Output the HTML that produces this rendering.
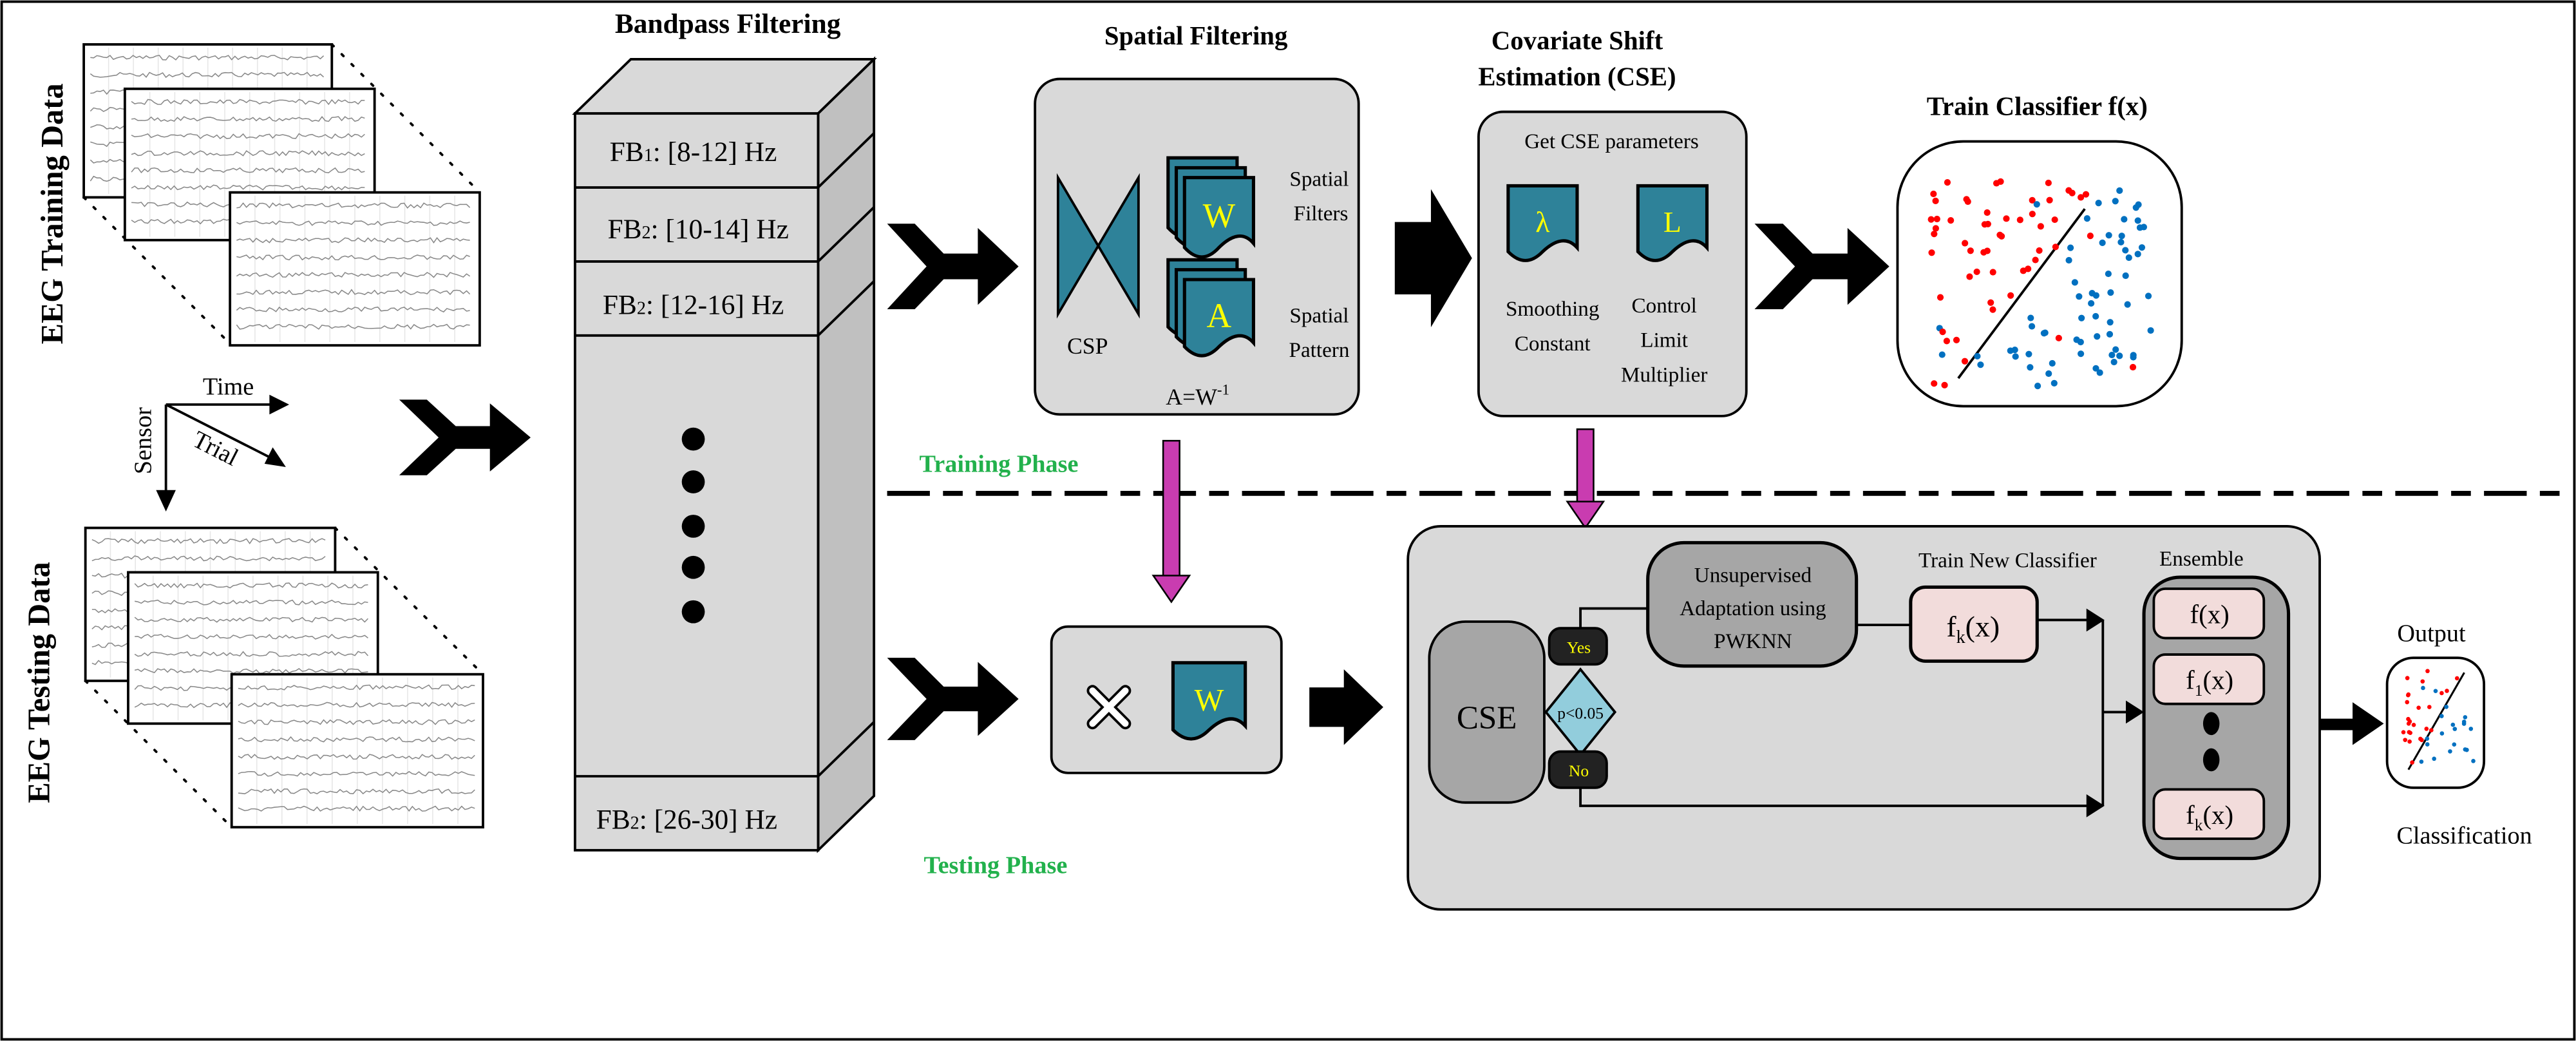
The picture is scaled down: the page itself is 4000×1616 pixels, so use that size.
<!DOCTYPE html>
<html><head><meta charset="utf-8"><style>
html,body{margin:0;padding:0;background:#fff;}
svg{display:block;}
text{font-family:"Liberation Serif",serif;}
</style></head><body>
<svg id="s" xmlns="http://www.w3.org/2000/svg" width="4000" height="1616" viewBox="0 0 1568 633" preserveAspectRatio="none">
<rect x="1" y="1" width="1566" height="631" fill="#fff" stroke="#000" stroke-width="1.5"/>
<g id="eeg"></g>
<text transform="translate(38,130) rotate(-90)" text-anchor="middle" font-size="19" font-weight="bold">EEG Training Data</text>
<text transform="translate(30,415) rotate(-90)" text-anchor="middle" font-size="19" font-weight="bold">EEG Testing Data</text>
<g stroke="#000" stroke-width="1.5" fill="none">
<line x1="101" y1="246" x2="170" y2="246"/><line x1="101" y1="246" x2="168" y2="280"/><line x1="101" y1="246" x2="101" y2="305"/>
</g>
<polygon points="176,246 164,240 164,252" fill="#000"/>
<polygon points="174,284 161,282 166,272" fill="#000"/>
<polygon points="101,311 95,298 107,298" fill="#000"/>
<text x="139" y="240" text-anchor="middle" font-size="15">Time</text>
<text transform="translate(92,268) rotate(-90)" text-anchor="middle" font-size="15">Sensor</text>
<text transform="translate(129,277) rotate(27)" text-anchor="middle" font-size="15">Trial</text>
<g id="chev"></g>
<!-- bandpass -->
<polygon points="350,69 384,36 532,36 498,69" fill="#d9d9d9" stroke="#000" stroke-width="1.5"/>
<polygon points="498,69 532,36 532,484 498,517" fill="#c0c0c0" stroke="#000" stroke-width="1.5"/>
<rect x="350" y="69" width="148" height="448" fill="#d9d9d9" stroke="#000" stroke-width="1.5"/>
<g stroke="#000" stroke-width="1.5">
<line x1="350" y1="114" x2="498" y2="114"/><line x1="498" y1="114" x2="532" y2="81"/>
<line x1="350" y1="159" x2="498" y2="159"/><line x1="498" y1="159" x2="532" y2="126"/>
<line x1="350" y1="204" x2="498" y2="204"/><line x1="498" y1="204" x2="532" y2="171"/>
<line x1="350" y1="472" x2="498" y2="472"/><line x1="498" y1="472" x2="532" y2="439"/>
</g>
<text x="443" y="20" text-anchor="middle" font-size="17" font-weight="bold">Bandpass Filtering</text>
<g font-size="17" text-anchor="middle">
<text x="422" y="98">FB<tspan font-size="11">1</tspan>: [8-12] Hz</text>
<text x="425" y="145">FB<tspan font-size="11">2</tspan>: [10-14] Hz</text>
<text x="422" y="191">FB<tspan font-size="11">2</tspan>: [12-16] Hz</text>
<text x="418" y="504">FB<tspan font-size="11">2</tspan>: [26-30] Hz</text>
</g>
<g fill="#000"><circle cx="422" cy="267" r="7"/><circle cx="422" cy="293" r="7"/><circle cx="422" cy="320" r="7"/><circle cx="422" cy="345" r="7"/><circle cx="422" cy="372" r="7"/></g>
<!-- Spatial filtering -->
<text x="728" y="27" text-anchor="middle" font-size="16" font-weight="bold">Spatial Filtering</text>
<rect x="630" y="48" width="197" height="204" rx="15" fill="#d9d9d9" stroke="#000" stroke-width="1.5"/>
<polygon points="644,108 693,191 693,108 644,191" fill="#2e8299" stroke="#000" stroke-width="1.5"/>
<text x="662" y="215" text-anchor="middle" font-size="14">CSP</text>
<!-- CSE box -->
<rect x="900" y="68" width="163" height="185" rx="15" fill="#d9d9d9" stroke="#000" stroke-width="1.5"/>
<!-- multiply box -->
<rect x="640" y="381" width="140" height="89" rx="10" fill="#d9d9d9" stroke="#000" stroke-width="1.5"/>
<g fill="#2e8299" stroke="#000" stroke-width="2">
<path d="M711,96 H753 V136 Q744.6,126 732,138.5 Q721.5,150 711,138.5 Z"/>
<path d="M716,102 H758 V142 Q749.6,132 737,144.5 Q726.5,156 716,144.5 Z"/>
<path d="M721,108 H763 V148 Q754.6,138 742,150.5 Q731.5,162 721,150.5 Z"/>
<path d="M711,158 H753 V196.4 Q744.6,186.8 732,198.8 Q721.5,209.8 711,198.8 Z"/>
<path d="M716,164 H758 V202.4 Q749.6,192.8 737,204.8 Q726.5,215.8 716,204.8 Z"/>
<path d="M721,170 H763 V208.4 Q754.6,198.8 742,210.8 Q731.5,221.8 721,210.8 Z"/>
<path d="M918,113 H960 V150.6 Q951.6,141.2 939,153 Q928.5,163.8 918,153 Z"/>
<path d="M997,113 H1039 V150.6 Q1030.6,141.2 1018,153 Q1007.5,163.8 997,153 Z"/>
<path d="M714,403 H758 V441.4 Q749.2,431.8 736,443.8 Q725,454.8 714,443.8 Z"/>
</g>
<text x="742" y="138" text-anchor="middle" font-size="21" fill="#ff0">W</text>
<text x="742" y="199" text-anchor="middle" font-size="21" fill="#ff0">A</text>
<text x="736" y="432" text-anchor="middle" font-size="19" fill="#ff0">W</text>
<g font-size="13" text-anchor="middle"><text x="803" y="113">Spatial</text><text x="804" y="134">Filters</text><text x="803" y="196">Spatial</text><text x="803" y="217">Pattern</text></g>
<text x="729" y="246" text-anchor="middle" font-size="14">A=W<tspan font-size="9" dy="-6">-1</tspan></text>
<!-- block arrows -->
<polygon points="849,135 871,135 871,115 896,157 871,199 871,179 849,179" fill="#000"/>
<polygon points="797,418 818,418 818,407 842,430 818,453 818,442 797,442" fill="#000"/>
<!-- CSE -->
<text x="960" y="30" text-anchor="middle" font-size="16" font-weight="bold">Covariate Shift</text>
<text x="960" y="52" text-anchor="middle" font-size="16" font-weight="bold">Estimation (CSE)</text>
<text x="981" y="90" text-anchor="middle" font-size="13">Get CSE parameters</text>
<text x="939" y="141" text-anchor="middle" font-size="18" fill="#ff0">λ</text>
<text x="1018" y="141" text-anchor="middle" font-size="18" fill="#ff0">L</text>
<g font-size="13" text-anchor="middle"><text x="945" y="192">Smoothing</text><text x="945" y="213">Constant</text><text x="1013" y="190">Control</text><text x="1013" y="211">Limit</text><text x="1013" y="232">Multiplier</text></g>
<!-- train classifier -->
<text x="1240" y="70" text-anchor="middle" font-size="16" font-weight="bold">Train Classifier f(x)</text>
<rect x="1155" y="86" width="173" height="161" rx="40" fill="#fff" stroke="#000" stroke-width="1.5"/>
<line x1="1192" y1="230" x2="1269" y2="127" stroke="#000" stroke-width="1.5"/>
<g id="sc1"></g>
<line x1="540" y1="300" x2="1566" y2="300" stroke="#000" stroke-width="3" stroke-dasharray="26 8 12 8"/>
<text x="608" y="287" text-anchor="middle" font-size="15" font-weight="bold" fill="#22b14c">Training Phase</text>
<text x="606" y="531" text-anchor="middle" font-size="15" font-weight="bold" fill="#22b14c">Testing Phase</text>
<rect x="708" y="268" width="10" height="83" fill="#c93cb0" stroke="#000"/>
<polygon points="702,350 724,350 713,366" fill="#c93cb0" stroke="#000"/>
<rect x="960" y="261" width="10" height="45" fill="#c93cb0" stroke="#000"/>
<polygon points="954,305 976,305 965,321" fill="#c93cb0" stroke="#000"/>
<g stroke="#000" stroke-width="7" stroke-linecap="round"><line x1="665" y1="420" x2="685" y2="440"/><line x1="685" y1="420" x2="665" y2="440"/></g>
<g stroke="#fff" stroke-width="4" stroke-linecap="round"><line x1="665" y1="420" x2="685" y2="440"/><line x1="685" y1="420" x2="665" y2="440"/></g>
<!-- test big box -->
<rect x="857" y="320" width="555" height="233" rx="20" fill="#d9d9d9" stroke="#000" stroke-width="1.5"/>
<rect x="870" y="378" width="70" height="110" rx="22" fill="#a6a6a6" stroke="#000" stroke-width="1.5"/>
<text x="905" y="443" text-anchor="middle" font-size="20">CSE</text>
<g stroke="#000" stroke-width="1.5" fill="none">
<line x1="940" y1="433" x2="945" y2="433"/>
<polyline points="962,382 962,370 1003,370"/>
<line x1="1130" y1="380" x2="1163" y2="380"/>
<line x1="1240" y1="377" x2="1272" y2="377"/>
<line x1="1280" y1="377" x2="1280" y2="490"/>
<line x1="1280" y1="433" x2="1298" y2="433"/>
<polyline points="962,477 962,490 1272,490"/>
</g>
<polygon points="1281,377 1270,370 1270,384" fill="#000"/>
<polygon points="1305,433 1294,426 1294,440" fill="#000"/>
<polygon points="1281,490 1270,483 1270,497" fill="#000"/>
<rect x="943" y="382" width="35" height="22" rx="7" fill="#222" stroke="#000" stroke-width="1.5"/>
<text x="961" y="397" text-anchor="middle" font-size="10" fill="#ff0">Yes</text>
<polygon points="962,407 983,433 962,459 941,433" fill="#92cddc" stroke="#000" stroke-width="1.5"/>
<text x="962" y="437" text-anchor="middle" font-size="10">p&lt;0.05</text>
<rect x="943" y="457" width="35" height="22" rx="7" fill="#222" stroke="#000" stroke-width="1.5"/>
<text x="961" y="472" text-anchor="middle" font-size="10" fill="#ff0">No</text>
<rect x="1003" y="330" width="127" height="75" rx="22" fill="#a6a6a6" stroke="#000" stroke-width="2"/>
<g font-size="13" text-anchor="middle"><text x="1067" y="354">Unsupervised</text><text x="1067" y="374">Adaptation using</text><text x="1067" y="394">PWKNN</text></g>
<text x="1222" y="345" text-anchor="middle" font-size="13">Train New Classifier</text>
<rect x="1163" y="357" width="77" height="45" rx="9" fill="#f2dcdb" stroke="#000" stroke-width="2"/>
<text x="1201" y="387" text-anchor="middle" font-size="18">f<tspan font-size="11" dy="4">k</tspan><tspan dy="-4">(x)</tspan></text>
<text x="1340" y="344" text-anchor="middle" font-size="13">Ensemble</text>
<rect x="1305" y="351" width="88" height="171" rx="22" fill="#a6a6a6" stroke="#000" stroke-width="2"/>
<rect x="1311" y="358" width="67" height="30" rx="7" fill="#f2dcdb" stroke="#000" stroke-width="1.5"/>
<text x="1345" y="379" text-anchor="middle" font-size="16">f(x)</text>
<rect x="1311" y="398" width="67" height="30" rx="7" fill="#f2dcdb" stroke="#000" stroke-width="1.5"/>
<text x="1345" y="419" text-anchor="middle" font-size="16">f<tspan font-size="10" dy="4">1</tspan><tspan dy="-4">(x)</tspan></text>
<ellipse cx="1346" cy="440" rx="5" ry="7"/><ellipse cx="1346" cy="462" rx="5" ry="7"/>
<rect x="1311" y="480" width="67" height="30" rx="7" fill="#f2dcdb" stroke="#000" stroke-width="1.5"/>
<text x="1345" y="501" text-anchor="middle" font-size="16">f<tspan font-size="10" dy="4">k</tspan><tspan dy="-4">(x)</tspan></text>
<rect x="1412" y="437" width="22" height="7" fill="#000"/>
<polygon points="1451,440 1432,427 1432,453" fill="#000"/>
<text x="1480" y="390" text-anchor="middle" font-size="15">Output</text>
<rect x="1453" y="400" width="59" height="79" rx="16" fill="#fff" stroke="#000" stroke-width="1.5"/>
<line x1="1466" y1="468" x2="1500" y2="409" stroke="#000" stroke-width="1.2"/>
<g id="sc2"></g>
<text x="1500" y="513" text-anchor="middle" font-size="15">Classification</text>
</svg>
<script>
var NS="http://www.w3.org/2000/svg";
function el(p,t,a){var e=document.createElementNS(NS,t);for(var k in a)e.setAttribute(k,a[k]);p.appendChild(e);return e;}
var seed=7;function r(){seed=(seed*9301+49297)%233280;return seed/233280;}
var eeg=document.getElementById('eeg');
function frame(x,y,w,h){el(eeg,'rect',{x:x,y:y,width:w,height:h,fill:'#fff',stroke:'#000','stroke-width':1.5});
 for(var i=1;i<10;i++)el(eeg,'line',{x1:x+i*w/10,y1:y+2,x2:x+i*w/10,y2:y+h-2,stroke:'#e6e6e6','stroke-width':0.6});
 for(var j=0;j<8;j++){var yy=y+8+j*(h-14)/7.5,p='';for(var xx=x+4;xx<x+w-4;xx+=2)p+=xx+','+(yy+(r()-0.5)*3)+' ';el(eeg,'polyline',{points:p,fill:'none',stroke:'#888','stroke-width':0.6});}}
function dots(x1,y1,x2,y2){el(eeg,'line',{x1:x1,y1:y1,x2:x2,y2:y2,stroke:'#000','stroke-width':1.5,'stroke-dasharray':'1.5 7','stroke-linecap':'round'});}
dots(202,27,292,117);dots(51,120,141,210);
frame(51,27,151,93);frame(76,54,152,92);frame(140,117,152,93);
dots(204,321,294,410);dots(52,414,141,503);
frame(52,321,152,93);frame(78,348,152,92);frame(141,410,153,93);
var ch=document.getElementById('chev');
function chev(x,y,w,h){var n=[[0,0],[.21,0],[.43,.35],[.69,.35],[.69,.05],[1,.5],[.69,.95],[.69,.65],[.43,.65],[.21,1],[0,1],[.3,.5]];
 el(ch,'polygon',{points:n.map(function(p){return (x+p[0]*w)+','+(y+p[1]*h)}).join(' '),fill:'#000'});}
chev(243,243,80,46);chev(540,136,80,52);chev(1068,136,82,52);chev(540,400,80,50);
function scat(g,cx,cy,w,h,n,lx1,ly1,lx2,ly2,rad){g=document.getElementById(g);
 for(var i=0;i<n;i++){var x=cx+r()*w,y=cy+r()*h;var side=(lx2-lx1)*(y-ly1)-(ly2-ly1)*(x-lx1);
  if(r()<0.06)side=-side;el(g,'circle',{cx:x,cy:y,r:rad,fill:side<0?'#ff0000':'#0070c0'});}}
scat('sc1',1175,110,135,125,120,1192,230,1269,127,2);
scat('sc2',1462,408,44,62,45,1466,468,1500,409,1.3);
</script>
</body></html>
